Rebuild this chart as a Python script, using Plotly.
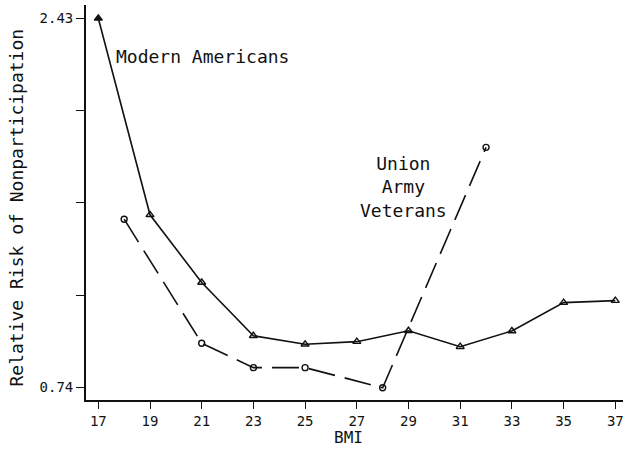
import plotly.graph_objects as go

# Data
modern_bmi = [17, 19, 21, 23, 25, 27, 29, 31, 33, 35, 37]
modern_rr = [2.43, 1.53, 1.22, 0.976, 0.937, 0.949, 0.999, 0.926, 0.998, 1.128, 1.137]

union_bmi = [18, 21, 23, 25, 28, 32]
union_rr = [1.51, 0.942, 0.83, 0.83, 0.738, 1.839]

x_ticks = [17, 19, 21, 23, 25, 27, 29, 31, 33, 35, 37]
y_tickvals = [0.74, 1.1625, 1.585, 2.0075, 2.43]
y_ticktext = ["0.74", "", "", "", "2.43"]

INK = "#111111"
FONT = "DejaVu Sans Mono"

W, H = 623, 451
ML, MR, MT, MB = 86, 0, 5, 51


def px(xp):
    return (xp - ML) / (W - ML - MR)


def py(yp):
    return (H - MB - yp) / (H - MT - MB)


fig = go.Figure()

fig.add_trace(go.Scatter(
    x=modern_bmi, y=modern_rr, mode="lines+markers",
    line=dict(color=INK, width=1.6),
    marker=dict(symbol=["triangle-up"] + ["triangle-up-open"] * (len(modern_bmi) - 1),
                size=7, color=INK, line=dict(color=INK, width=1.4)),
    showlegend=False, cliponaxis=False,
))

fig.add_trace(go.Scatter(
    x=union_bmi, y=union_rr, mode="lines+markers",
    line=dict(color=INK, width=1.6, dash="27px,10px"),
    marker=dict(symbol="circle-open", size=6, color=INK, line=dict(color=INK, width=1.4)),
    showlegend=False, cliponaxis=False,
))

fig.add_annotation(x=px(202.5), y=py(56.7), xref="paper", yref="paper",
                   text="Modern Americans", showarrow=False,
                   font=dict(family=FONT, size=18, color=INK),
                   xanchor="center", yanchor="middle")

fig.add_annotation(x=px(403), y=py(186.7), xref="paper", yref="paper",
                   text="Union<br>Army<br>Veterans", showarrow=False, align="center",
                   font=dict(family=FONT, size=18, color=INK),
                   xanchor="center", yanchor="middle")

fig.add_annotation(x=px(16), y=py(207.5), xref="paper", yref="paper",
                   text="Relative Risk of Nonparticipation", showarrow=False,
                   textangle=-90, font=dict(family=FONT, size=18, color=INK),
                   xanchor="center", yanchor="middle")

fig.add_annotation(x=px(348), y=py(437), xref="paper", yref="paper",
                   text="BMI", showarrow=False,
                   font=dict(family=FONT, size=16, color=INK),
                   xanchor="center", yanchor="middle")

fig.update_layout(
    width=W, height=H,
    margin=dict(l=ML, r=MR, t=MT, b=MB),
    paper_bgcolor="white", plot_bgcolor="white",
    font=dict(family=FONT, color=INK),
    xaxis=dict(range=[16.524, 37.298], tickvals=x_ticks,
               ticktext=[str(v) for v in x_ticks],
               showgrid=False, zeroline=False, showline=True, linecolor=INK, linewidth=1.8,
               ticks="outside", ticklen=7, tickwidth=1.4, tickcolor=INK,
               ticklabeloverflow="allow",
               tickfont=dict(family=FONT, size=14, color=INK)),
    yaxis=dict(range=[0.6818, 2.491], tickvals=y_tickvals, ticktext=y_ticktext,
               showgrid=False, zeroline=False, showline=True, linecolor=INK, linewidth=1.8,
               ticks="outside", ticklen=8, tickwidth=1.4, tickcolor=INK,
               tickfont=dict(family=FONT, size=14, color=INK)),
)

fig.write_html("out.html")
